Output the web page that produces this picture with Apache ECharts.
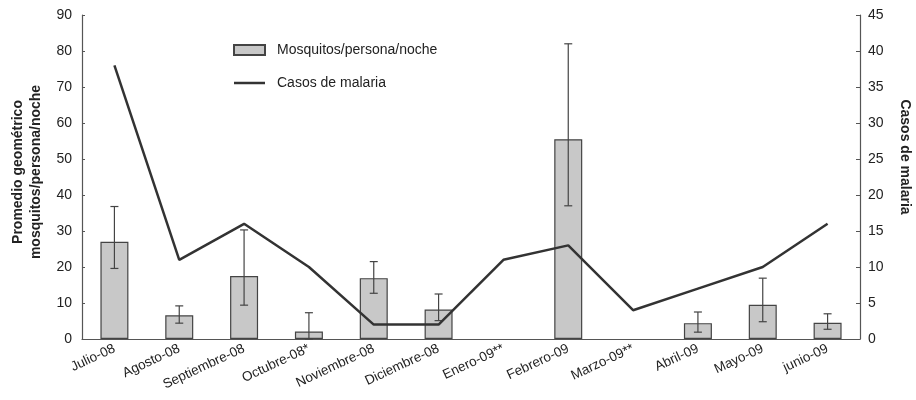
<!DOCTYPE html>
<html><head><meta charset="utf-8">
<script src="https://cdn.jsdelivr.net/npm/echarts@6/dist/echarts.min.js"></script>
<style>html,body{margin:0;padding:0;background:#fff}#c{width:916px;height:400px}</style>
</head><body><div id="c"></div>
<script>
const categories = ['Julio-08','Agosto-08','Septiembre-08','Octubre-08*','Noviembre-08','Diciembre-08','Enero-09**','Febrero-09','Marzo-09**','Abril-09','Mayo-09','junio-09'];
const mosquitos = [27.0, 6.6, 17.5, 2.1, 16.9, 8.2, null, 55.5, null, 4.4, 9.5, 4.5];
const errLow    = [19.6, 4.4, 9.4, 0, 12.7, 5.1, null, 37.0, null, 1.9, 4.8, 2.7];
const errHigh   = [36.8, 9.2, 30.3, 7.3, 21.5, 12.5, null, 82.0, null, 7.5, 16.9, 7.0];
const casos     = [38, 11, 16, 10, 2, 2, 11, 13, 4, 7, 10, 16];
const leftTicks = {min: 0, max: 90, interval: 10};
const rightTicks = {min: 0, max: 45, interval: 5};

const errData = categories.map((c, i) => errLow[i] == null ? null : [i, errLow[i], errHigh[i]]).filter(d => d);

const font = '"Liberation Sans", Arial, sans-serif';
const axisColor = '#555';
const chart = echarts.init(document.getElementById('c'));
chart.setOption({
  animation: false,
  textStyle: {fontFamily: font},
  grid: {left: 82, right: 56, top: 15, bottom: 61, containLabel: false, outerBoundsMode: 'none'},
  legend: {
    orient: 'vertical', left: 228, top: 38, itemWidth: 31, itemHeight: 10, itemGap: 19,
    symbolKeepAspect: true,
    textStyle: {fontFamily: font, fontSize: 14, color: '#222', padding: [0, 0, 0, 7]},
    data: [{name: 'Mosquitos/persona/noche', icon: 'rect'},
           {name: 'Casos de malaria', icon: 'path://M0,0 L31,0 L31,2.5 L0,2.5 Z'}]
  },
  xAxis: {
    type: 'category', data: categories, boundaryGap: true,
    axisLine: {lineStyle: {color: axisColor, width: 1.2}},
    axisTick: {inside: true, length: 4, lineStyle: {color: axisColor}},
    axisLabel: {rotate: 25, fontSize: 13.5, color: '#222', margin: 9, interval: 0, fontFamily: font}
  },
  yAxis: [{
    type: 'value', min: leftTicks.min, max: leftTicks.max, interval: leftTicks.interval,
    name: 'Promedio geométrico\nmosquitos/persona/noche', nameLocation: 'middle', nameRotate: 90, nameGap: 34,
    nameTextStyle: {fontWeight: 'bold', fontSize: 14, color: '#222', lineHeight: 18, fontFamily: font, padding: [0, 0, 0, 10]},
    axisLine: {show: true, lineStyle: {color: axisColor, width: 1.2}},
    axisTick: {show: true, inside: true, length: 3, lineStyle: {color: axisColor}},
    axisLabel: {fontSize: 14, color: '#222', margin: 10, fontFamily: font},
    splitLine: {show: false}
  }, {
    type: 'value', min: rightTicks.min, max: rightTicks.max, interval: rightTicks.interval, position: 'right',
    name: 'Casos de malaria', nameLocation: 'middle', nameRotate: -90, nameGap: 38,
    nameTextStyle: {fontWeight: 'bold', fontSize: 14, color: '#222', fontFamily: font, padding: [0, 40, 0, 0]},
    axisLine: {show: true, lineStyle: {color: axisColor, width: 1.2}},
    axisTick: {show: true, inside: true, length: 4, lineStyle: {color: axisColor}},
    axisLabel: {fontSize: 14, color: '#222', margin: 8, fontFamily: font},
    splitLine: {show: false}
  }],
  series: [{
    name: 'Mosquitos/persona/noche', type: 'bar', data: mosquitos, barWidth: 28, yAxisIndex: 0,
    itemStyle: {color: '#c8c8c8', borderColor: '#444', borderWidth: 1.2}
  }, {
    type: 'custom', yAxisIndex: 0, data: errData, z: 5,
    renderItem: function (params, api) {
      const x = api.value(0);
      const lo = api.coord([x, api.value(1)]);
      const hi = api.coord([x, api.value(2)]);
      const w = 4;
      const st = {stroke: '#444', lineWidth: 1.2};
      return {type: 'group', children: [
        {type: 'line', shape: {x1: lo[0], y1: lo[1], x2: hi[0], y2: hi[1]}, style: st},
        {type: 'line', shape: {x1: hi[0]-w, y1: hi[1], x2: hi[0]+w, y2: hi[1]}, style: st},
        {type: 'line', shape: {x1: lo[0]-w, y1: lo[1], x2: lo[0]+w, y2: lo[1]}, style: st}
      ]};
    }
  }, {
    name: 'Casos de malaria', type: 'line', data: casos, yAxisIndex: 1, symbol: 'none',
    lineStyle: {color: '#333', width: 2.5}, itemStyle: {color: '#333'}, z: 6
  }]
});
</script></body></html>
